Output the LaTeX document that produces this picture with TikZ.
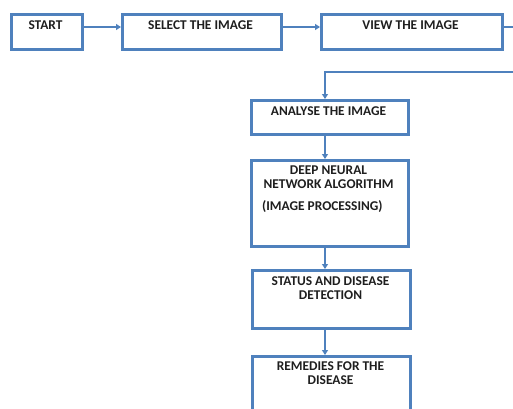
\documentclass[tikz,border=0pt]{standalone}
\usepackage{fontspec}
\setmainfont{Carlito}
\usetikzlibrary{arrows.meta}
\definecolor{boxblue}{RGB}{79,129,189}
\definecolor{txt}{RGB}{30,30,30}
\begin{document}
\begin{tikzpicture}[x=1pt,y=-1pt,
  box/.style={draw=boxblue,line width=2.6pt,rectangle,inner sep=0pt,anchor=north west},
  lbl/.style={font=\bfseries\fontsize{13.4}{15}\selectfont,text=txt,inner sep=0pt},
  arr/.style={draw=boxblue,line width=1.8pt,-{Triangle[length=5pt,width=6pt]}},
  ln/.style={draw=boxblue,line width=1.8pt}]
\useasboundingbox (0,0) rectangle (513,408);
\begin{scope}
\clip (0,0) rectangle (513,408);
\node[box,minimum width=71pt,minimum height=35pt] (start) at (10,13) {};
\node[box,minimum width=159pt,minimum height=35pt] (select) at (121,13) {};
\node[box,minimum width=181pt,minimum height=35pt] (view) at (320,13) {};
\node[box,minimum width=157pt,minimum height=34pt] (analyse) at (250,99) {};
\node[box,minimum width=157pt,minimum height=86pt] (dnn) at (250,159) {};
\node[box,minimum width=158pt,minimum height=58pt] (status) at (251,269) {};
\node[box,minimum width=158pt,minimum height=70pt] (remedies) at (251,355) {};

\node[lbl] (tstart) at (45.5,25) {START};
\node[lbl] (tselect) at (200.5,25) {SELECT THE IMAGE};
\node[lbl] (tview) at (410.5,25) {VIEW THE IMAGE};
\node[lbl] (tanalyse) at (328.5,111) {ANALYSE THE IMAGE};
\node[lbl] (tdnn1) at (328.5,170) {DEEP NEURAL};
\node[lbl] (tdnn2) at (328.5,184) {NETWORK ALGORITHM};
\node[lbl,anchor=west] (tdnn3) at (262,207) {(IMAGE PROCESSING)};
\node[lbl] (tstat1) at (330.5,281) {STATUS AND DISEASE};
\node[lbl] (tstat2) at (330.5,295) {DETECTION};
\node[lbl] (trem1) at (330.5,366) {REMEDIES FOR THE};
\node[lbl] (trem2) at (330.5,380) {DISEASE};

\coordinate (e1) at (515,27);
\coordinate (e2) at (515,72);
\coordinate (bend) at (325,72);

\draw[arr] (start.east |- 0,27) -- (select.west |- 0,27);
\draw[arr] (select.east |- 0,27) -- (view.west |- 0,27);
\draw[ln] (view.east |- 0,27) -- (e1);
\draw[arr] (e2) -- (bend) -- (bend |- analyse.north);
\draw[arr] (analyse.south -| 325,0) -- (dnn.north -| 325,0);
\draw[arr] (dnn.south -| 325,0) -- (status.north -| 325,0);
\draw[arr] (status.south -| 325,0) -- (remedies.north -| 325,0);
\end{scope}
\end{tikzpicture}
\end{document}
